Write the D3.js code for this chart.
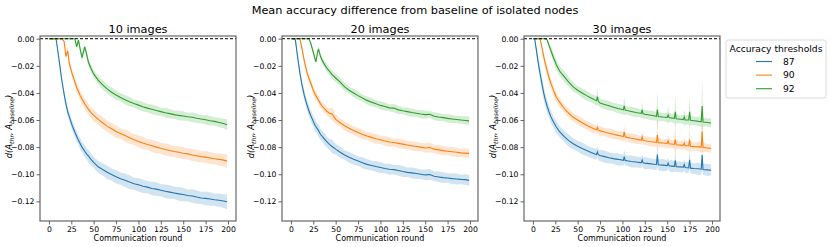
<!DOCTYPE html>
<meta charset="utf-8">
<style>
body { margin: 0; background: #fff; }
svg text { font-family: "DejaVu Sans", sans-serif; fill: #000; }
.axis path, .axis line { stroke: #555; stroke-width: 0.9px; }
.axis text { font-size: 7.7px; }
</style>
<body>
<svg width="831" height="247"></svg>
<script src="https://d3js.org/d3.v7.min.js"></script>
<script>

// ---- data ----
var thresholds = ["87", "90", "92"];
var panelTitles = ["10 images", "20 images", "30 images"];
var xTicks = [0, 25, 50, 75, 100, 125, 150, 175, 200];
var yTicks = [0, -0.02, -0.04, -0.06, -0.08, -0.10, -0.12];

// 10 images
var rounds10 = [0,5,8,11,14,17,19,21,23,26, 29,31,33,35,37,40,42,44,47,50,
  55,60,65,70,75,80,85,90,95,100, 105,110,115,120,125,130,135,140,145,150,
  155,160,165,170,175,180,185,190,195,199];
var mean87_10 = [0,0,0,-0.014,-0.029,-0.041,-0.048,-0.054,-0.058,-0.064,
  -0.069,-0.072,-0.075,-0.0775,-0.080,-0.083,-0.085,-0.0865,-0.089,-0.0913,
  -0.0945,-0.0965,-0.0985,-0.1002,-0.1018,-0.1033,-0.1045,-0.1058,-0.107,-0.1078,
  -0.1088,-0.1095,-0.1105,-0.111,-0.1118,-0.1126,-0.1132,-0.1138,-0.1145,-0.115,
  -0.1157,-0.116,-0.1168,-0.1175,-0.1178,-0.1183,-0.1188,-0.1192,-0.1198,-0.1203];
var ci87_10 = [0.0003,0.0003,0.0005,0.002,0.003,0.003,0.0035,0.003,0.0035,0.0035,
  0.0035,0.004,0.0035,0.004,0.004,0.0045,0.004,0.0045,0.0045,0.004,
  0.0045,0.0045,0.005,0.0045,0.005,0.0045,0.005,0.005,0.0045,0.005,
  0.005,0.0045,0.005,0.005,0.0045,0.005,0.005,0.0045,0.005,0.005,
  0.0045,0.005,0.005,0.0045,0.005,0.005,0.0045,0.005,0.005,0.0055];
var mean90_10 = [0,0,0,0,0,-0.002,-0.013,-0.009,-0.019,-0.026,
  -0.032,-0.036,-0.039,-0.042,-0.0445,-0.048,-0.050,-0.052,-0.0545,-0.0565,
  -0.0595,-0.062,-0.0645,-0.0665,-0.0685,-0.070,-0.0715,-0.073,-0.0745,-0.0758,
  -0.077,-0.078,-0.079,-0.080,-0.0808,-0.0818,-0.0825,-0.0832,-0.0838,-0.0845,
  -0.085,-0.0858,-0.0864,-0.087,-0.0874,-0.088,-0.0886,-0.089,-0.0896,-0.0903];
var ci90_10 = [0,0,0,0,0,0.001,0.003,0.003,0.003,0.003,
  0.003,0.0035,0.0035,0.0035,0.004,0.0035,0.004,0.004,0.004,0.0045,
  0.004,0.0045,0.004,0.0045,0.0045,0.004,0.0045,0.0045,0.004,0.0045,
  0.0045,0.004,0.0045,0.0045,0.004,0.0045,0.0045,0.004,0.0045,0.0045,
  0.004,0.0045,0.0045,0.004,0.0045,0.0045,0.004,0.0045,0.0045,0.005];
var mean92_10 = [0,0,0,0,0,0,0,0,0,0,
  0,-0.006,-0.001,-0.008,-0.014,-0.006,-0.011,-0.017,-0.022,-0.026,
  -0.0305,-0.034,-0.037,-0.0395,-0.0415,-0.0433,-0.045,-0.0465,-0.0478,-0.049,
  -0.0502,-0.0512,-0.052,-0.053,-0.0538,-0.0546,-0.0553,-0.056,-0.0566,-0.057,
  -0.0576,-0.058,-0.0587,-0.0593,-0.0598,-0.0605,-0.061,-0.0618,-0.0626,-0.0635];
var ci92_10 = [0,0,0,0,0,0,0,0,0,0,
  0,0.002,0.002,0.002,0.003,0.002,0.003,0.003,0.003,0.003,
  0.003,0.0035,0.003,0.0035,0.0035,0.003,0.0035,0.0035,0.003,0.0035,
  0.0035,0.003,0.0035,0.0035,0.003,0.0035,0.0035,0.003,0.0035,0.0035,
  0.003,0.0035,0.0035,0.003,0.0035,0.0035,0.003,0.0035,0.0035,0.004];

// 20 images
var rounds20 = [0,3,5,8,10,12,15,18,20,22, 25,27,28,30,31,33,35,38,40,43,
  46,50,55,60,65,70,75,80,85,90, 95,100,105,110,115,120,125,130,135,140,
  145,150,155,160,165,170,175,180,185,190, 195,199];
var mean87_20 = [0,0,-0.001,-0.016,-0.025,-0.033,-0.042,-0.049,-0.053,-0.0565,
  -0.061,-0.064,-0.065,-0.067,-0.068,-0.0705,-0.072,-0.0745,-0.076,-0.078,
  -0.0795,-0.0815,-0.0838,-0.0858,-0.0875,-0.089,-0.0903,-0.0915,-0.0927,-0.0935,
  -0.0943,-0.095,-0.0958,-0.0963,-0.0966,-0.0972,-0.098,-0.0986,-0.099,-0.0995,
  -0.1,-0.1005,-0.1002,-0.1015,-0.102,-0.1025,-0.1028,-0.1032,-0.1035,-0.1038,
  -0.104,-0.1045];
var ci87_20 = [0,0,0.001,0.002,0.003,0.003,0.004,0.004,0.004,0.004,
  0.004,0.0045,0.004,0.004,0.0045,0.004,0.004,0.0045,0.004,0.004,
  0.005,0.004,0.004,0.0035,0.004,0.004,0.0035,0.004,0.004,0.0035,
  0.004,0.004,0.0035,0.004,0.0035,0.004,0.004,0.0035,0.004,0.004,
  0.0035,0.004,0.004,0.0035,0.004,0.004,0.0035,0.004,0.004,0.0035,
  0.004,0.004];
var mean90_20 = [0,0,0,0,0,-0.006,-0.0165,-0.025,-0.029,-0.0325,
  -0.038,-0.041,-0.042,-0.0445,-0.0455,-0.048,-0.050,-0.052,-0.0535,-0.055,
  -0.0555,-0.0595,-0.062,-0.0642,-0.066,-0.0678,-0.0692,-0.0706,-0.0718,-0.0728,
  -0.0738,-0.0746,-0.0755,-0.0762,-0.0766,-0.0772,-0.0778,-0.0784,-0.079,-0.0795,
  -0.08,-0.0806,-0.0803,-0.0815,-0.082,-0.0826,-0.083,-0.0834,-0.0838,-0.0842,
  -0.0844,-0.0846];
var ci90_20 = [0,0,0,0,0,0.002,0.003,0.003,0.003,0.003,
  0.003,0.0035,0.003,0.003,0.0035,0.003,0.003,0.0035,0.003,0.0035,
  0.005,0.0035,0.003,0.0035,0.0035,0.003,0.0035,0.0035,0.003,0.0035,
  0.0035,0.003,0.0035,0.0035,0.003,0.0035,0.0035,0.003,0.0035,0.0035,
  0.003,0.0035,0.0035,0.003,0.0035,0.0035,0.003,0.0035,0.0035,0.003,
  0.0035,0.0035];
var mean92_20 = [0,0,0,0,0,0,0,0,0,-0.003,
  -0.010,-0.015,-0.017,-0.009,-0.008,-0.013,-0.016,-0.0195,-0.0215,-0.024,
  -0.0265,-0.029,-0.032,-0.0355,-0.038,-0.040,-0.042,-0.0438,-0.0455,-0.0468,
  -0.048,-0.0492,-0.050,-0.051,-0.0512,-0.0525,-0.0532,-0.0538,-0.0545,-0.055,
  -0.0556,-0.056,-0.0558,-0.0572,-0.0578,-0.0582,-0.0588,-0.0592,-0.0596,-0.06,
  -0.0603,-0.0606];
var ci92_20 = [0,0,0,0,0,0,0,0,0,0.001,
  0.002,0.002,0.002,0.002,0.002,0.0025,0.0025,0.0025,0.003,0.003,
  0.003,0.003,0.003,0.003,0.0025,0.003,0.003,0.0025,0.003,0.003,
  0.0025,0.003,0.003,0.0025,0.003,0.003,0.0025,0.003,0.003,0.0025,
  0.003,0.003,0.0025,0.003,0.003,0.0025,0.003,0.003,0.0025,0.003,
  0.003,0.003];

// 30 images
var rounds30 = [0,2,4,6,8,10,12,14,16,18, 20,23,26,30,35,40,45,50,55,60,
  65,70,71,72,73,75,80,85,90,95, 100,101,102,103,105,110,115,120,121,122,
  123,125,130,135,138,139,140,145,150,151, 152,155,158,159,160,165,168,169,170,174,
  175,176,180,185,188,189,190,195,199];
var mean87_30 = [0,0,-0.009,-0.018,-0.0255,-0.033,-0.040,-0.0455,-0.050,-0.054,
  -0.0575,-0.0615,-0.065,-0.0688,-0.0723,-0.0752,-0.0775,-0.0793,-0.081,-0.0825,
  -0.084,-0.0852,-0.0854,-0.0835,-0.0856,-0.0862,-0.087,-0.0878,-0.0885,-0.089,
  -0.0896,-0.0897,-0.087,-0.0898,-0.09,-0.0906,-0.091,-0.0914,-0.0915,-0.0895,
  -0.0916,-0.0918,-0.0922,-0.0926,-0.0928,-0.0855,-0.093,-0.0933,-0.0936,-0.0918,
  -0.0938,-0.094,-0.0942,-0.0898,-0.0944,-0.0946,-0.0948,-0.0928,-0.095,-0.0953,
  -0.0893,-0.0955,-0.0958,-0.096,-0.0963,-0.0858,-0.0965,-0.0968,-0.097];
var ci87_30 = [0,0,0.003,0.004,0.005,0.005,0.005,0.005,0.005,0.0045,
  0.0045,0.004,0.0045,0.004,0.004,0.0045,0.004,0.004,0.0045,0.004,
  0.004,0.004,0.004,0.004,0.004,0.004,0.0045,0.004,0.004,0.0045,
  0.004,0.004,0.005,0.004,0.004,0.0045,0.004,0.004,0.004,0.004,
  0.004,0.0045,0.004,0.004,0.004,0.009,0.004,0.0045,0.004,0.004,
  0.004,0.0045,0.004,0.008,0.004,0.004,0.004,0.004,0.004,0.004,
  0.007,0.004,0.004,0.0045,0.004,0.011,0.004,0.0045,0.004];
var mean90_30 = [0,0,0,0,0,-0.006,-0.013,-0.019,-0.024,-0.0285,
  -0.033,-0.038,-0.043,-0.047,-0.0515,-0.055,-0.058,-0.060,-0.062,-0.0638,
  -0.0655,-0.067,-0.0672,-0.0655,-0.0675,-0.068,-0.0688,-0.0697,-0.0705,-0.0713,
  -0.072,-0.0722,-0.069,-0.0724,-0.0728,-0.0734,-0.074,-0.0748,-0.0749,-0.0725,
  -0.075,-0.0753,-0.0758,-0.0762,-0.0765,-0.0711,-0.0767,-0.077,-0.0773,-0.0755,
  -0.0775,-0.0777,-0.078,-0.0744,-0.0782,-0.0785,-0.0787,-0.077,-0.0789,-0.079,
  -0.0747,-0.0793,-0.0796,-0.0798,-0.08,-0.0685,-0.0802,-0.0806,-0.081];
var ci90_30 = [0,0,0,0,0.001,0.002,0.003,0.004,0.004,0.004,
  0.004,0.0035,0.0035,0.0035,0.003,0.0035,0.003,0.0035,0.0035,0.003,
  0.0035,0.003,0.003,0.004,0.003,0.0035,0.003,0.0035,0.0035,0.003,
  0.0035,0.0035,0.006,0.0035,0.003,0.0035,0.0035,0.003,0.0035,0.004,
  0.0035,0.003,0.0035,0.0035,0.003,0.012,0.0035,0.003,0.0035,0.005,
  0.0035,0.003,0.0035,0.011,0.0035,0.003,0.0035,0.004,0.0035,0.0035,
  0.009,0.0035,0.003,0.0035,0.0035,0.015,0.0035,0.003,0.0035];
var mean92_30 = [0,0,0,0,0,0,0,0,-0.001,-0.005,
  -0.0085,-0.014,-0.019,-0.024,-0.028,-0.032,-0.0355,-0.038,-0.040,-0.042,
  -0.0438,-0.0455,-0.0458,-0.043,-0.046,-0.0475,-0.0485,-0.0495,-0.0505,-0.0515,
  -0.0522,-0.0524,-0.0495,-0.0526,-0.053,-0.0537,-0.0545,-0.055,-0.0551,-0.0525,
  -0.0554,-0.0558,-0.0563,-0.0568,-0.0572,-0.0523,-0.0574,-0.0578,-0.058,-0.0562,
  -0.0582,-0.0585,-0.0588,-0.054,-0.059,-0.0594,-0.0597,-0.0578,-0.0599,-0.06,
  -0.054,-0.0602,-0.0605,-0.061,-0.0612,-0.0497,-0.0614,-0.0618,-0.0622];
var ci92_30 = [0,0,0,0,0,0,0,0,0.001,0.002,
  0.003,0.0035,0.004,0.0035,0.004,0.0035,0.0035,0.003,0.0035,0.0035,
  0.003,0.0035,0.0035,0.006,0.0035,0.003,0.0035,0.0035,0.003,0.0035,
  0.0035,0.0035,0.007,0.0035,0.003,0.0035,0.0035,0.003,0.0035,0.006,
  0.0035,0.003,0.0035,0.0035,0.003,0.014,0.0035,0.003,0.0035,0.007,
  0.0035,0.003,0.0035,0.012,0.0035,0.003,0.0035,0.006,0.0035,0.0035,
  0.012,0.0035,0.003,0.0035,0.0035,0.02,0.0035,0.003,0.0035];

var colors = ["#1f77b4", "#ff7f0e", "#2ca02c"];

var panels = [
  { title: panelTitles[0], rounds: rounds10, means: [mean87_10, mean90_10, mean92_10], cis: [ci87_10, ci90_10, ci92_10] },
  { title: panelTitles[1], rounds: rounds20, means: [mean87_20, mean90_20, mean92_20], cis: [ci87_20, ci90_20, ci92_20] },
  { title: panelTitles[2], rounds: rounds30, means: [mean87_30, mean90_30, mean92_30], cis: [ci87_30, ci90_30, ci92_30] }
];

var svg = d3.select("svg"),
    pw = 196, ph = 185, top0 = 36, left0 = 40, step = 242;

var x = d3.scaleLinear().domain([-9.95, 208.95]).range([0, pw]);
var y = d3.scaleLinear().domain([-0.1345, 0.002]).range([ph, 0]);

svg.append("text")
    .attr("x", 415).attr("y", 14)
    .attr("text-anchor", "middle")
    .attr("font-size", "11.3px")
    .text("Mean accuracy difference from baseline of isolated nodes");

var line = d3.line()
    .x(function(d) { return x(d.r); })
    .y(function(d) { return y(d.m); });

var band = d3.area()
    .x(function(d) { return x(d.r); })
    .y0(function(d) { return y(d.m - d.c); })
    .y1(function(d) { return y(d.m + d.c); });

panels.forEach(function(p, i) {
  var g = svg.append("g")
      .attr("transform", "translate(" + (left0 + i * step) + "," + top0 + ")");

  p.means.forEach(function(vals, k) {
    var pts = p.rounds.map(function(r, j) { return { r: r, m: vals[j], c: p.cis[k][j] }; });
    g.append("path").datum(pts)
        .attr("d", band)
        .attr("fill", colors[k])
        .attr("fill-opacity", 0.2)
        .attr("stroke", "none");
    g.append("path").datum(pts)
        .attr("d", line)
        .attr("fill", "none")
        .attr("stroke", colors[k])
        .attr("stroke-width", 1.1);
  });

  // baseline
  g.append("line")
      .attr("x1", 0).attr("x2", pw)
      .attr("y1", y(0)).attr("y2", y(0))
      .attr("stroke", "#000")
      .attr("stroke-width", 1)
      .attr("stroke-dasharray", "3,2");

  g.append("rect")
      .attr("width", pw).attr("height", ph)
      .attr("fill", "none")
      .attr("stroke", "#666")
      .attr("stroke-width", 1.2);

  g.append("g")
      .attr("class", "axis")
      .attr("transform", "translate(0," + ph + ")")
      .call(d3.axisBottom(x).tickValues(xTicks).tickSize(3.5).tickPadding(2).tickFormat(d3.format("d")))
      .call(function(a) { a.select(".domain").remove(); });

  g.append("g")
      .attr("class", "axis")
      .call(d3.axisLeft(y).tickValues(yTicks).tickSize(3.5).tickPadding(2).tickFormat(d3.format(".2f")))
      .call(function(a) { a.select(".domain").remove(); });

  g.append("text")
      .attr("x", pw / 2).attr("y", -3)
      .attr("text-anchor", "middle")
      .attr("font-size", "11.3px")
      .text(p.title);

  g.append("text")
      .attr("x", pw / 2).attr("y", ph + 20)
      .attr("text-anchor", "middle")
      .attr("font-size", "8px")
      .text("Communication round");

  var yl = g.append("text")
      .attr("transform", "translate(-28," + (ph / 2 - 2) + ") rotate(-90)")
      .attr("text-anchor", "middle")
      .attr("font-size", "8.4px")
      .attr("font-style", "italic");
  yl.append("tspan").text("d(A");
  yl.append("tspan").attr("font-size", "6.2px").attr("dy", 1.8).text("thr");
  yl.append("tspan").attr("dy", -1.8).text(", A");
  yl.append("tspan").attr("font-size", "6.2px").attr("dy", 1.8).text("baseline");
  yl.append("tspan").attr("dy", -1.8).text(")");
});

// legend
var lg = svg.append("g").attr("transform", "translate(726,40)");
lg.append("rect")
    .attr("width", 100).attr("height", 58)
    .attr("rx", 2)
    .attr("fill", "#fff")
    .attr("stroke", "#d0d0d0")
    .attr("stroke-width", 0.8);
lg.append("text")
    .attr("x", 50).attr("y", 11.5)
    .attr("text-anchor", "middle")
    .attr("font-size", "9.2px")
    .text("Accuracy thresholds");
thresholds.forEach(function(t, k) {
  var yy = 21.5 + k * 13.6;
  lg.append("line")
      .attr("x1", 30).attr("x2", 46)
      .attr("y1", yy).attr("y2", yy)
      .attr("stroke", colors[k])
      .attr("stroke-width", 1.1);
  lg.append("text")
      .attr("x", 57).attr("y", yy + 3.3)
      .attr("font-size", "9.2px")
      .text(t);
});

</script>
</body>
